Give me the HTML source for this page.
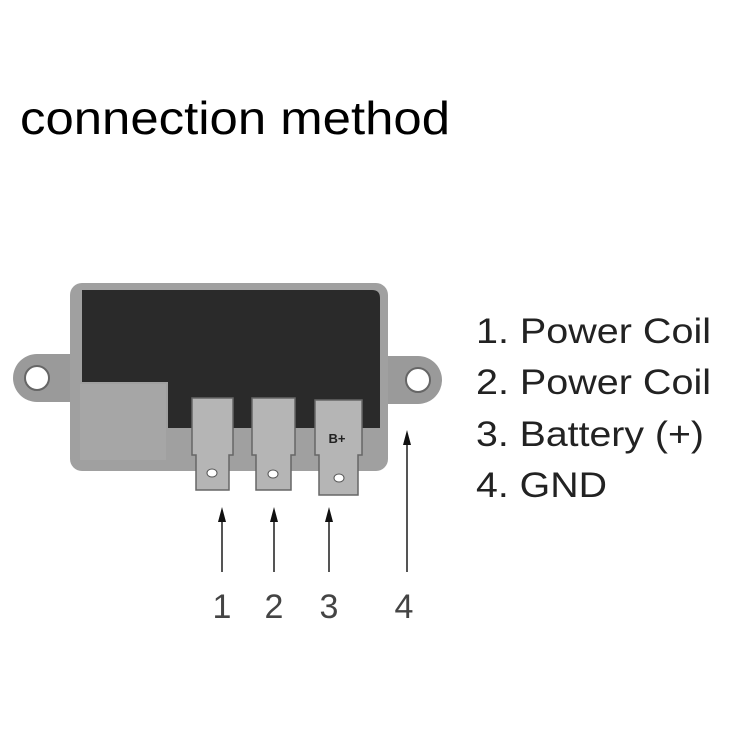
<!DOCTYPE html>
<html><head><style>
html,body{margin:0;padding:0;background:#fff;}
svg{display:block;}
</style></head><body>
<svg width="750" height="750" viewBox="0 0 750 750" xmlns="http://www.w3.org/2000/svg">
<rect width="750" height="750" fill="#fff"/>
<text x="20" y="134" font-family="Liberation Sans, sans-serif" font-size="46" fill="#000" textLength="430" lengthAdjust="spacingAndGlyphs">connection method</text>
<!-- ears -->
<path d="M37,354 L90,354 L90,402 L37,402 A24,24 0 0 1 37,354 Z" fill="#9a9a9a"/>
<circle cx="37" cy="378" r="12" fill="#fff" stroke="#666" stroke-width="2"/>
<path d="M418,356 L370,356 L370,404 L418,404 A24,24 0 0 0 418,356 Z" fill="#9a9a9a"/>
<circle cx="418" cy="380" r="12" fill="#fff" stroke="#666" stroke-width="2"/>
<!-- body -->
<rect x="70" y="283" width="318" height="188" rx="12" fill="#a0a0a0"/>
<path d="M82,290 L372,290 Q380,290 380,298 L380,428 L168,428 L168,382 L82,382 Z" fill="#2a2a2a"/>
<rect x="80" y="384" width="86" height="76" fill="#a6a6a6"/>
<!-- terminals -->
<g fill="#b5b5b5" stroke="#666" stroke-width="1.5">
<path d="M192,398 L233,398 L233,455 L229,455 L229,490 L196,490 L196,455 L192,455 Z"/>
<path d="M252,398 L295,398 L295,455 L291,455 L291,490 L256,490 L256,455 L252,455 Z"/>
<path d="M315,400 L362,400 L362,455 L358,455 L358,495 L319,495 L319,455 L315,455 Z"/>
</g>
<g fill="#fff" stroke="#555" stroke-width="1"><ellipse cx="212" cy="473" rx="5" ry="4"/><ellipse cx="273" cy="474" rx="5" ry="4"/><ellipse cx="339" cy="478" rx="5" ry="4"/></g>
<text x="337" y="443" font-family="Liberation Sans, sans-serif" font-size="13" font-weight="bold" fill="#222" text-anchor="middle">B+</text>
<!-- arrows -->
<g stroke="#555" stroke-width="2">
<line x1="222" y1="515" x2="222" y2="572"/><line x1="274" y1="515" x2="274" y2="572"/><line x1="329" y1="515" x2="329" y2="572"/><line x1="407" y1="440" x2="407" y2="572"/>
</g>
<g fill="#111">
<path d="M222,507 L218,522 L226,522 Z"/><path d="M274,507 L270,522 L278,522 Z"/><path d="M329,507 L325,522 L333,522 Z"/><path d="M407,430 L403,445 L411,445 Z"/>
</g>
<g font-family="Liberation Sans, sans-serif" font-size="34" fill="#444" text-anchor="middle">
<text x="222" y="618">1</text><text x="274" y="618">2</text><text x="329" y="618">3</text><text x="404" y="618">4</text>
</g>
<g font-family="Liberation Sans, sans-serif" font-size="35" fill="#222">
<text x="476" y="343" textLength="235" lengthAdjust="spacingAndGlyphs">1. Power Coil</text>
<text x="476" y="394" textLength="235" lengthAdjust="spacingAndGlyphs">2. Power Coil</text>
<text x="476" y="446" textLength="228" lengthAdjust="spacingAndGlyphs">3. Battery (+)</text>
<text x="476" y="497" textLength="131" lengthAdjust="spacingAndGlyphs">4. GND</text>
</g>
</svg>
</body></html>
